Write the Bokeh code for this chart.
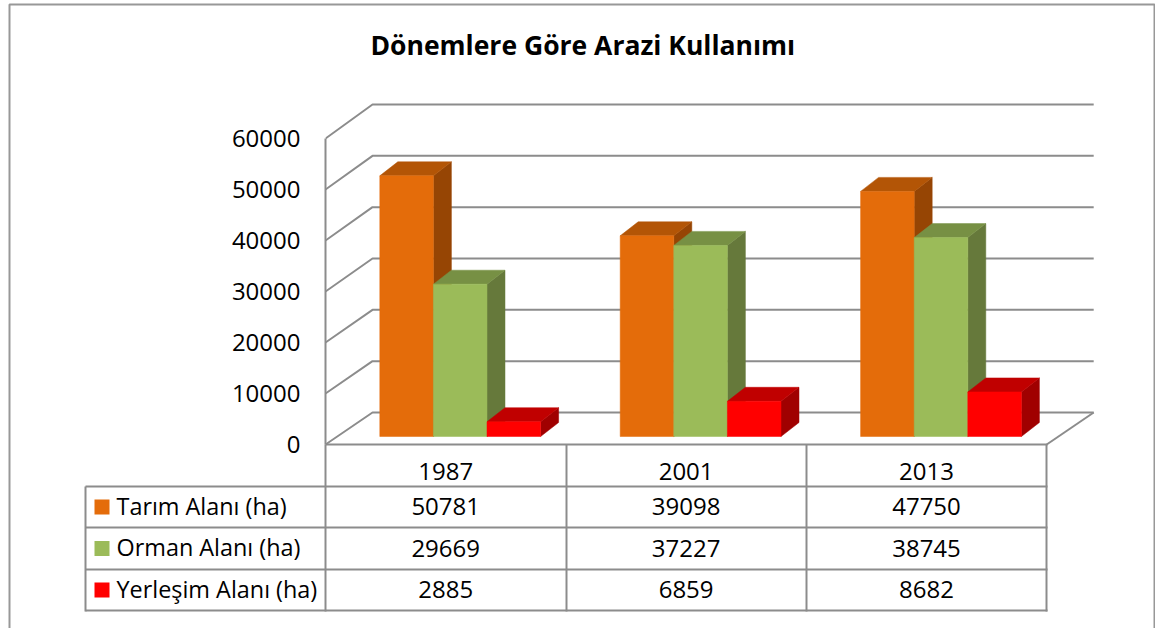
from bokeh.plotting import figure
from bokeh.layouts import column
from bokeh.models import (Range1d, FixedTicker, LinearAxis, Title)
from bokeh.core.properties import value
from bokeh.embed import file_html
from bokeh.resources import INLINE

# ---- data -------------------------------------------------------------
years = ["1987", "2001", "2013"]
tarim = [50781, 39098, 47750]
orman = [29669, 37227, 38745]
yerlesim = [2885, 6859, 8682]
series_names = ["Tarım Alanı (ha)", "Orman Alanı (ha)", "Yerleşim Alanı (ha)"]
y_ticks = [0, 10000, 20000, 30000, 40000, 50000, 60000]
chart_title = "Dönemlere Göre Arazi Kullanımı"

# ---- style ------------------------------------------------------------
FONT = "Open Sans"
FS = "24px"
GREY = "#8c8c8c"
front = ["#E46C0A", "#9BBB59", "#FF0000"]
top_c = ["#B35506", "#779044", "#C00000"]
side = ["#964504", "#66793B", "#A00000"]

W, H = 1155, 628
FRAME_L, FRAME_T = 325, 80     # page px of the plot frame
ZERO_PX = 444                  # page row of value 0 at the front of the floor
PX_PER_VAL = 51 / 10000
PX_PER_CAT = 240.4
DEPTH_SCALE = 308 / 306        # the perspective scale of the walls and bars behind the axis plane

def vpx(px):                   # a page-row distance, in value units
    return px / PX_PER_VAL
def cpx(px):                   # a page-column distance, in category units
    return px / PX_PER_CAT
def page_y(px):                # page row -> chart y
    return vpx(ZERO_PX - px)

# ---- background sheet: outer border, table rules, legend cells --------
bg = figure(width=W, height=H, output_backend="svg", toolbar_location=None,
            x_axis_location=None, y_axis_location=None,
            x_range=Range1d(0, W), y_range=Range1d(H, 0),
            min_border=0, outline_line_color=None,
            background_fill_color="white", border_fill_color="white")
bg.grid.visible = False
bg.margin = (0, 0, 0, 0)
bg.frame_align = False

bg.multi_line(xs=[[9, 9, 1154, 1154]], ys=[[H + 20, 4, 4, H + 20]], line_color="#989898", line_width=2)

TABLE_COLS = [85, 325, 566, 806, 1046]
TABLE_ROWS = [444, 486, 527, 569, 610]
rx, ry = [], []
rx.append([325, 1047]); ry.append([444, 444])
for y in TABLE_ROWS[1:]:
    rx.append([TABLE_COLS[0], 1047]); ry.append([y, y])
rx.append([TABLE_COLS[0], TABLE_COLS[0]]); ry.append([486, 611])
for x in TABLE_COLS[1:]:
    rx.append([x, x]); ry.append([444, 611])
bg.multi_line(xs=rx, ys=ry, line_color=GREY, line_width=2)

ROW_PX = [471, 506, 547.5, 589]
for name, col, yc in zip(series_names, front, ROW_PX[1:]):
    bg.quad(left=94, right=109, top=yc - 7, bottom=yc + 8, fill_color=col, line_color=None)
    bg.text(x=[116], y=[yc - 1], text=[name], text_font=value(FONT), text_font_size=value("23.4px"),
            text_color="black", text_baseline="middle")

# ---- chart sheet, transparent, laid over the background ---------------
p = figure(width=W, height=H, output_backend="svg", toolbar_location=None,
           x_axis_location=None, y_axis_location=None,
           x_range=Range1d(0, cpx(W - FRAME_L)),
           y_range=Range1d(page_y(H), page_y(FRAME_T)),
           min_border_left=FRAME_L, min_border_right=0, min_border_top=FRAME_T, min_border_bottom=0,
           outline_line_color=None, background_fill_alpha=0, border_fill_alpha=0)
p.margin = (-H, 0, 0, 0)
p.frame_align = False
p.grid.visible = False

# title
p.title = Title(text=chart_title, text_font=FONT, text_font_size="26.5px", text_font_style="bold",
                text_color="black", align="left", offset=45, standoff=36)

# value axis
axis = LinearAxis(ticker=FixedTicker(ticks=y_ticks), bounds=(y_ticks[0], y_ticks[-1]),
                  major_tick_line_color=None, minor_tick_line_color=None,
                  axis_line_color=GREY, axis_line_width=2, major_label_standoff=19,
                  major_label_text_font=FONT, major_label_text_font_size=FS,
                  major_label_text_color="black")
p.add_layout(axis, "left")

# walls: gridlines run up the side wall and along the back wall
DX, DY = cpx(47), vpx(32)
n_cat = len(years)
RIGHT = n_cat + DX
p.multi_line(xs=[[0, DX, RIGHT] for _ in y_ticks],
             ys=[[t, t * DEPTH_SCALE + DY, t * DEPTH_SCALE + DY] for t in y_ticks],
             line_color=GREY, line_width=2)
p.line(x=[n_cat, RIGHT], y=[0, DY], line_color=GREY, line_width=2)

# 3-D bars
BAR_W = cpx(53.6)
BAR_X0 = cpx(54.3)
BASE = vpx(8)
BDX, BDY = cpx(18), vpx(14)
for c in range(n_cat):
    for s, vals in enumerate([tarim, orman, yerlesim]):
        x0 = c + BAR_X0 + s * BAR_W
        x1 = x0 + BAR_W
        y0 = BASE
        y1 = BASE + vals[c] * DEPTH_SCALE
        p.patch([x1, x1 + BDX, x1 + BDX, x1], [y0, y0 + BDY, y1 + BDY, y1],
                fill_color=side[s], line_color=side[s], line_width=0.5)
        p.patch([x0, x1, x1 + BDX, x0 + BDX], [y1, y1, y1 + BDY, y1 + BDY],
                fill_color=top_c[s], line_color=top_c[s], line_width=0.5)
        p.quad(left=x0, right=x1, bottom=y0, top=y1, fill_color=front[s],
               line_color=front[s], line_width=0.5)

# data table: the value part
table_rows = [years, tarim, orman, yerlesim]
xs, ys, ts = [], [], []
for r, row in enumerate(table_rows):
    for c, v in enumerate(row):
        xs.append(c + 0.5)
        ys.append(page_y(ROW_PX[r]))
        ts.append(str(v))
p.text(x=xs, y=ys, text=ts, text_font=value(FONT), text_font_size=value(FS),
       text_color="black", text_align="center", text_baseline="middle")

page = column(bg, p, spacing=0)
open("out.html", "w").write(file_html(page, INLINE))
